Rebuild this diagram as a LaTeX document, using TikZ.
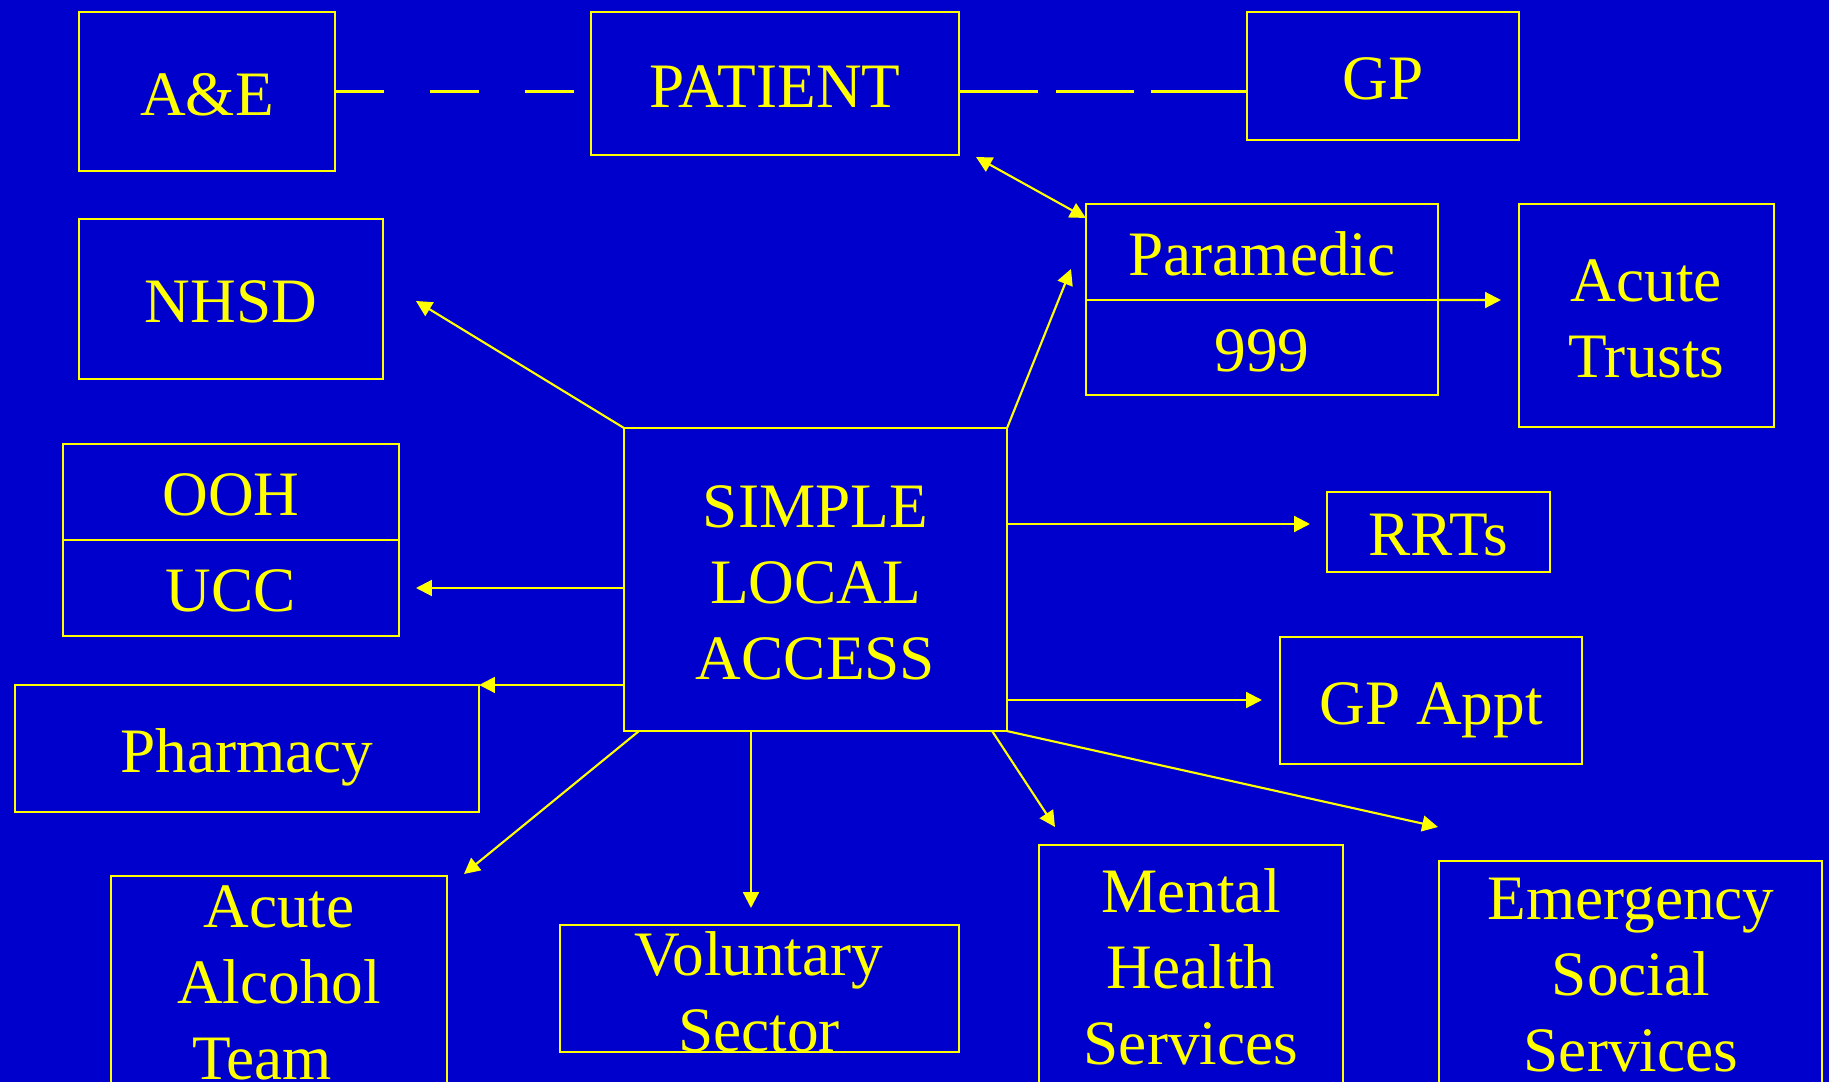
\documentclass[tikz,border=0pt]{standalone}
\usepackage{fontspec}
\setmainfont{Liberation Serif}
\usetikzlibrary{arrows.meta,positioning,calc}

\definecolor{slblue}{HTML}{0000CC}
\definecolor{slyellow}{HTML}{FFFF00}

\tikzset{
    box/.style={draw=slyellow, line width=0.6pt, inner sep=0pt, outer sep=0pt},
    lbl/.style={text=slyellow, font=\fontsize{18}{21.6}\selectfont, align=center, inner sep=0pt},
    oneline/.style={lbl, text height=14.4pt, text depth=0.9pt},
    link/.style={draw=slyellow, line width=0.6pt},
    >={Triangle[length=4.5pt,width=4.5pt]},
}

\begin{document}
\begin{tikzpicture}[x=0.01cm, y=-0.01cm]
    % Background
    \useasboundingbox (0,0) rectangle (1829,1082);
    \clip (0,0) rectangle (1829,1082);
    \fill[slblue] (0,0) rectangle (1829,1082);

    % Top row
    \node[box, oneline, minimum width=2.56cm, minimum height=1.59cm] (ae) at (207,91.5) {A\&E};
    \node[box, oneline, minimum width=3.68cm, minimum height=1.43cm] (patient) at (775,83.5) {PATIENT};
    \node[box, oneline, minimum width=2.72cm, minimum height=1.28cm] (gp) at (1383,76) {GP};

    % Left column
    \node[box, oneline, minimum width=3.04cm, minimum height=1.60cm] (nhsd) at (231,299) {NHSD};
    \node[box, oneline, minimum width=3.36cm, minimum height=0.96cm] (ooh) at (231,492) {OOH};
    \node[box, oneline, minimum width=3.36cm, minimum height=0.96cm] (ucc) at (231,588) {UCC};
    \node[box, oneline, minimum width=4.64cm, minimum height=1.27cm] (pharm) at (247,748.5) {Pharmacy};

    % Centre
    \node[box, minimum width=3.83cm, minimum height=3.03cm] (sla) at (815.5,579.5) {};
    \node[lbl] (slatext) at (815.5,582.5) {SIMPLE\\LOCAL\\ACCESS};

    % Right side
    \node[box, oneline, minimum width=3.52cm, minimum height=0.96cm] (para) at (1262,252) {Paramedic};
    \node[box, oneline, minimum width=3.52cm, minimum height=0.95cm] (nine) at (1262,347.5) {999};
    \node[box, minimum width=2.55cm, minimum height=2.23cm] (trusts) at (1646.5,315.5) {};
    \node[lbl] (truststext) at (1646.5,318.5) {Acute\\Trusts};
    \node[box, oneline, minimum width=2.23cm, minimum height=0.80cm] (rrts) at (1438.5,532) {RRTs};
    \node[box, oneline, minimum width=3.02cm, minimum height=1.27cm] (appt) at (1431,700.5) {GP Appt};

    % Bottom row (boxes run off the page)
    \node[box, minimum width=3.36cm, minimum height=3.00cm] (alcbox) at (279,1026) {};
    \node[lbl] (alc) at (279,983) {Acute\\Alcohol\\Team\hspace*{9.5pt}};
    \node[box, minimum width=3.99cm, minimum height=1.27cm] (volbox) at (759.5,988.5) {};
    \node[lbl] (vol) at (759,992) {Voluntary\\Sector};
    \node[box, minimum width=3.04cm, minimum height=3.00cm] (mentalbox) at (1191,995) {};
    \node[lbl] (mental) at (1191,967) {Mental\\Health\hspace*{4pt}\\Services};
    \node[box, minimum width=3.83cm, minimum height=3.00cm] (socialbox) at (1630.5,1011) {};
    \node[lbl] (social) at (1631,975) {Emergency\\Social\hspace*{4.5pt}\\Services};

    % Arrow ends
    \coordinate (nhsdtip) at (416,301);
    \coordinate (paratip) at (1071,269);
    \coordinate (pattip) at (976,157);
    \coordinate (trusttip) at (1501,300);
    \coordinate (rrttip) at (1310,524);
    \coordinate (ucctip) at (416,588);
    \coordinate (appttip) at (1262,700);
    \coordinate (alctip) at (464,874);
    \coordinate (voltip) at (751,908);
    \coordinate (mentaltip) at (1055,827);
    \coordinate (socialtip) at (1438,827);

    % Dashed links along the top
    \draw[link, dash pattern=on 13.8pt off 13.2pt] (ae.east) -- (ae.east -| patient.west);
    \draw[link, dash pattern=on 22.5pt off 5pt on 22.2pt off 4.8pt on 40pt off 1pt]
        (patient.east |- ae.east) -- (gp.west |- ae.east);

    % Arrows
    \draw[link, <->] (pattip) -- ($(para.north west)+(0,14)$);
    \draw[link, ->] (para.south east) -- (trusttip);
    \draw[link, ->] (sla.north west) -- (nhsdtip);
    \draw[link, ->] (sla.north east) -- (paratip);
    \draw[link, ->] (sla.east |- rrttip) -- (rrttip);
    \draw[link, ->] (sla.west |- ucctip) -- (ucctip);
    \draw[link, ->] (sla.west |- pharm.north east) -- (pharm.north east);
    \draw[link, ->] (sla.east |- appttip) -- (appttip);
    \draw[link, ->] ([xshift=0.15cm]sla.south west) -- (alctip);
    \draw[link, ->] (sla.south -| voltip) -- (voltip);
    \draw[link, ->] ([xshift=-0.15cm]sla.south east) -- (mentaltip);
    \draw[link, ->] (sla.south east) -- (socialtip);
\end{tikzpicture}
\end{document}
